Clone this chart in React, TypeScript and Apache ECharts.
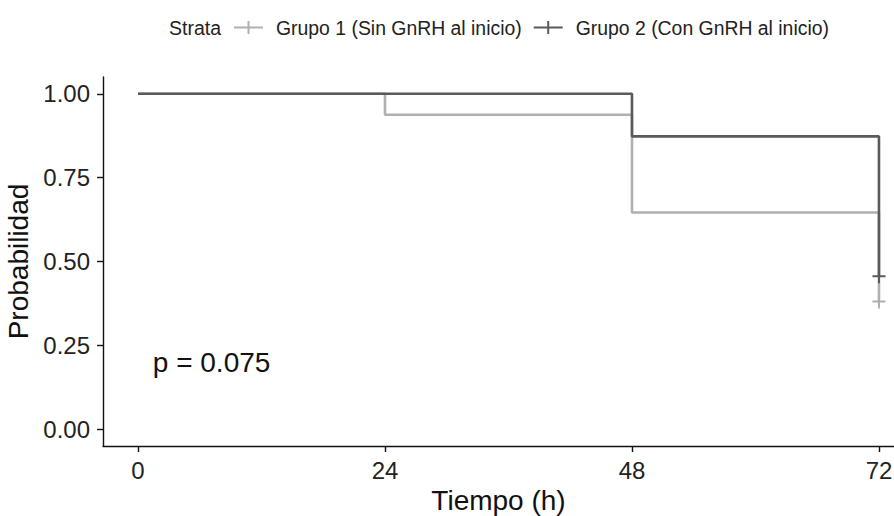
import React, { useEffect, useRef } from "react";
import * as echarts from "echarts";

const group1Name = "Grupo 1 (Sin GnRH al inicio)";
const group2Name = "Grupo 2 (Con GnRH al inicio)";
const group1Steps: [number, number][] = [
  [0, 1.0],
  [24, 0.9375],
  [48, 0.646],
  [72, 0.381],
];
const group2Steps: [number, number][] = [
  [0, 1.0],
  [48, 0.873],
  [72, 0.456],
];
const group1Censor: [number, number][] = [[72, 0.381]];
const group2Censor: [number, number][] = [[72, 0.456]];
const xTicks = [0, 24, 48, 72];
const yTicks = [0, 0.25, 0.5, 0.75, 1.0];
const pValueText = "p = 0.075";
const pValuePos: [number, number][] = [[1.44, 0.2]];

const colorG1 = "#b0b0b0";
const colorG2 = "#5a5a5a";
const FONT = "'Liberation Sans', Arial, sans-serif";
const plusIcon = "path://M0,5.5h29v2h-29z M13.5,0h2v13h-2z";
const censorIcon = "path://M0,6h13v2h-13z M5.5,0h2v14h-2z";

export default function App() {
  const ref = useRef<HTMLDivElement>(null);
  useEffect(() => {
    if (!ref.current) return;
    const chart = echarts.init(ref.current, undefined, { renderer: "svg" });
    chart.setOption({
      animation: false,
      backgroundColor: "#ffffff",
      textStyle: { fontFamily: FONT },
      title: {
        text: "Strata",
        left: 169,
        top: 18,
        padding: 0,
        textStyle: { fontSize: 19.5, fontWeight: "normal", color: "#222", fontFamily: FONT },
      },
      legend: {
        left: 234,
        top: 18,
        padding: 0,
        itemWidth: 29,
        itemHeight: 13,
        itemGap: 12,
        textStyle: { fontSize: 19.4, color: "#222", fontFamily: FONT, padding: [0, 0, 0, 8] },
        data: [
          { name: group1Name, icon: plusIcon, itemStyle: { color: colorG1 } },
          { name: group2Name, icon: plusIcon, itemStyle: { color: colorG2 } },
        ],
      },
      grid: {
        left: 103,
        right: 0,
        top: 77,
        bottom: 70,
        containLabel: false,
        outerBoundsMode: "none",
      },
      xAxis: {
        type: "value",
        min: -3.4,
        max: 73.46,
        name: "Tiempo (h)",
        nameLocation: "middle",
        nameGap: 40,
        nameTextStyle: { fontSize: 28, color: "#111", fontFamily: FONT },
        axisLine: { show: true, onZero: false, lineStyle: { color: "#111", width: 1.4 } },
        axisTick: { show: true, length: 6, customValues: xTicks, lineStyle: { color: "#111", width: 1.4 } },
        axisLabel: { fontSize: 24, color: "#222", margin: 12, customValues: xTicks, fontFamily: FONT },
        splitLine: { show: false },
      },
      yAxis: {
        type: "value",
        min: -0.05,
        max: 1.05,
        name: "Probabilidad",
        nameLocation: "middle",
        nameGap: 58,
        nameTextStyle: { fontSize: 28, color: "#111", fontFamily: FONT },
        axisLine: { show: true, onZero: false, lineStyle: { color: "#111", width: 1.4 } },
        axisTick: { show: true, length: 6, customValues: yTicks, lineStyle: { color: "#111", width: 1.4 } },
        axisLabel: {
          fontSize: 24,
          color: "#222",
          margin: 13,
          customValues: yTicks,
          fontFamily: FONT,
          formatter: (v: number) => v.toFixed(2),
        },
        splitLine: { show: false },
      },
      series: [
        {
          name: group1Name,
          type: "line",
          step: "end",
          data: group1Steps,
          showSymbol: false,
          lineStyle: { color: colorG1, width: 2.6 },
          itemStyle: { color: colorG1 },
          z: 2,
        },
        {
          name: group1Name,
          type: "scatter",
          data: group1Censor,
          symbol: censorIcon,
          symbolSize: [13, 14],
          itemStyle: { color: colorG1, opacity: 1 },
          z: 3,
        },
        {
          name: group2Name,
          type: "line",
          step: "end",
          data: group2Steps,
          showSymbol: false,
          lineStyle: { color: colorG2, width: 2.6 },
          itemStyle: { color: colorG2 },
          z: 4,
        },
        {
          name: group2Name,
          type: "scatter",
          data: group2Censor,
          symbol: censorIcon,
          symbolSize: [13, 14],
          itemStyle: { color: colorG2, opacity: 1 },
          z: 5,
        },
        {
          name: "pval",
          type: "scatter",
          data: pValuePos,
          symbolSize: 0,
          silent: true,
          itemStyle: { opacity: 1 },
          label: {
            show: true,
            position: "right",
            distance: 0,
            formatter: pValueText,
            fontSize: 28,
            color: "#111",
            fontFamily: FONT,
          },
        },
      ],
    });
    return () => chart.dispose();
  }, []);
  return (
    <div
      ref={ref}
      style={{ position: "fixed", left: 0, top: 0, width: 894, height: 516, background: "#fff" }}
    />
  );
}
